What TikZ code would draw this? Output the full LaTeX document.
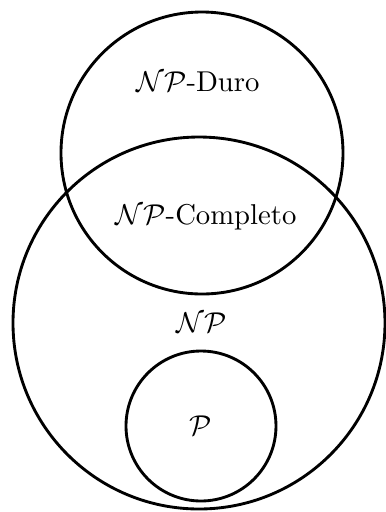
\documentclass[tikz,border=0pt]{standalone}
\begin{document}
\begin{tikzpicture}[x=0.01225cm, y=-0.01225cm,
  setline/.style={draw, line width=1pt},
  setlabel/.style={inner sep=0pt}]
\useasboundingbox (0,0) rectangle (385,512);
% sets: NP-hard, NP, P
\draw[setline] (202,153) circle (141);
\draw[setline] (199,323) circle (186);
\draw[setline] (201,426) circle (75);
% labels
\node[setlabel] (hard) at (198,82) {$\mathcal{NP}$-Duro};
\node[setlabel] (complete) at (206,217) {$\mathcal{NP}$-Completo};
\node[setlabel] (np) at (202,323) {$\mathcal{NP}$};
\node[setlabel] (p) at (201,426) {$\mathcal{P}$};
\end{tikzpicture}
\end{document}
